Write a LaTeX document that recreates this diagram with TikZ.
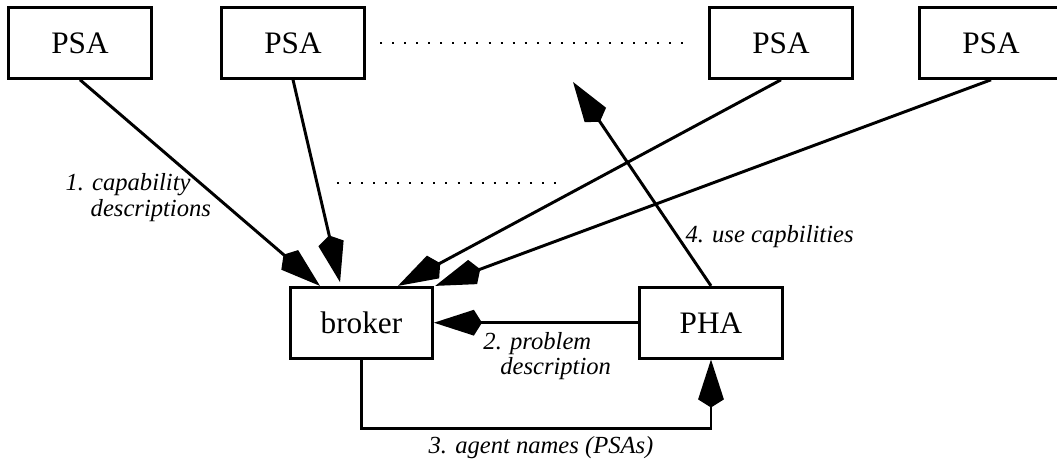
\documentclass[tikz,border=0pt]{standalone}
\usepackage{fontspec}
\setmainfont{Liberation Serif}[ItalicFont={Liberation Serif Italic}]
\usetikzlibrary{arrows.meta}
\begin{document}
\begin{tikzpicture}[
    agent/.style={draw, line width=1.2pt, minimum width=2.03cm, minimum height=1.01cm, inner sep=0pt, font=\fontsize{12.7}{15}\selectfont},
    msg/.style={line width=1.2pt, -{Kite[length=19.5pt,width=10.5pt,inset=3.3pt]}},
    lbl/.style={font=\fontsize{10}{10.3}\selectfont\itshape, inner sep=0pt, align=left},
    dots/.style={line width=0.8pt, dash pattern=on 0.8pt off 4.1pt}]
   \useasboundingbox (0,0) rectangle (15.1,-6.629);
   \foreach \x/\n in {1.143/1, 4.186/2, 11.157/3, 14.157/4}
     \node[agent] (psa\n) at (\x,-0.614) {PSA};
   \node[agent] (broker) at (5.164,-4.61) {broker};
   \node[agent] (pha) at (10.157,-4.61) {PHA};
   \coordinate (reach) at (8.186,-1.171);
   \draw[dots] (5.429,-0.614) -- (9.829,-0.614);
   \draw[dots] (4.814,-2.614) -- (7.971,-2.614);
   \draw[msg] (psa1.south) -- ([xshift=0.443cm]broker.north west);
   \draw[msg] (psa2.south) -- ([xshift=0.73cm,yshift=1.5pt]broker.north west);
   \draw[msg] (psa3.south) -- ([xshift=1.557cm]broker.north west);
   \draw[msg] (psa4.south) -- ([xshift=2.09cm]broker.north west);
   \draw[msg] (pha.west) -- (broker.east);
   \draw[msg] (pha.north) -- (reach);
   \draw[msg] (broker.south) -- ++(0,-0.986) -| (pha.south);
   \node[lbl, anchor=west] (cap) at (0.929,-2.821) {1. capability\\\hspace*{0.36cm}descriptions};
   \node[lbl, anchor=west] (prob) at (6.9,-5.086) {2. problem\\\hspace*{0.24cm}description};
   \node[lbl] (names) at (7.729,-6.4) {3. agent names (PSAs)};
   \node[lbl, anchor=west] (use) at (9.786,-3.386) {4. use capbilities};
\end{tikzpicture}
\end{document}
